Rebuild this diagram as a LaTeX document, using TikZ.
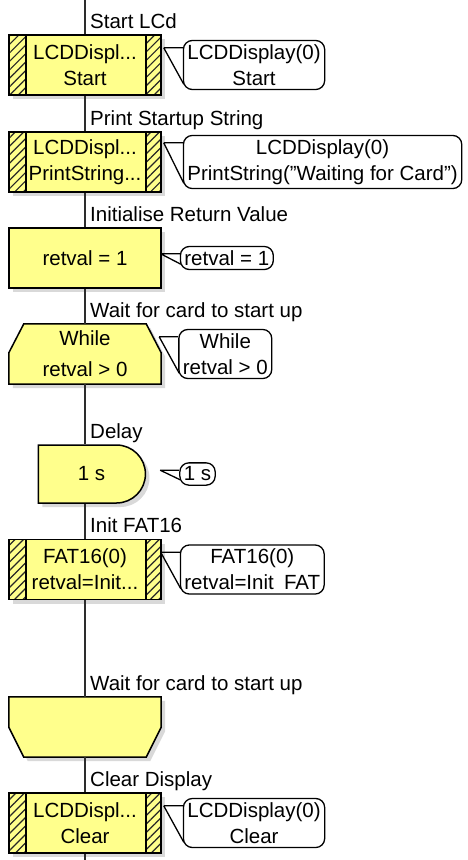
\documentclass[tikz,border=0pt]{standalone}
\usepackage{fontspec}
\setmainfont{Liberation Sans}
\usepackage{tikz}
\usetikzlibrary{positioning,shapes.misc,patterns.meta,shadows,backgrounds}

\definecolor{iconyellow}{RGB}{255,255,140}
\definecolor{flowgrey}{RGB}{45,45,45}

\tikzset{
  chart/.style={font=\fontsize{20.5}{26}\selectfont},
  shade off/.style={general shadow={fill=black!15, shadow xshift=4pt, shadow yshift=-4pt}},
  loopbox/.style={minimum width=152pt, minimum height=60pt, align=center, inner sep=0pt},
  blockbox/.style={loopbox, draw=black, line width=1.5pt, fill=iconyellow, shade off},
  macrobox/.style={blockbox, path picture={
      \fill[pattern={Lines[angle=45,distance=6pt,line width=1.2pt]}, pattern color=black!85]
        (path picture bounding box.south west) rectangle ([xshift=17pt]path picture bounding box.north west);
      \fill[pattern={Lines[angle=45,distance=6pt,line width=1.2pt]}, pattern color=black!85]
        (path picture bounding box.south east) rectangle ([xshift=-15pt]path picture bounding box.north east);
      \draw[line width=1.5pt] ([xshift=17pt]path picture bounding box.south west) -- ([xshift=17pt]path picture bounding box.north west);
      \draw[line width=1.5pt] ([xshift=-15pt]path picture bounding box.south east) -- ([xshift=-15pt]path picture bounding box.north east);
  }},
  loopshape/.style={draw=black, line width=1.5pt, fill=iconyellow, shade off},
  delaybox/.style={rounded rectangle, rounded rectangle west arc=none, draw=black, line width=1.5pt,
    fill=iconyellow, minimum width=107pt, minimum height=58pt, inner sep=0pt, shade off},
  note/.style={draw=black, line width=1.3pt, rounded corners=9pt, fill=white, align=center,
    inner xsep=4pt, inner ysep=4pt},
  pointer/.style={line width=1.3pt},
  flowline/.style={draw=flowgrey, line width=2pt},
  steplabel/.style={anchor=south west, text depth=0pt, inner sep=0pt},
}

\begin{document}
\begin{tikzpicture}[x=1pt, y=-1pt, chart]
\useasboundingbox (0,0) rectangle (468,860);

\coordinate (top) at (85,0);
\coordinate (bottom) at (85,860);

% Flow icons
\node[macrobox] (lcdstart) at (85,65) {LCDDispl...\\Start};
\node[macrobox] (lcdprint) at (85,162) {LCDDispl...\\PrintString...};
\node[blockbox] (setret) at (85,258) {retval = 1};
\node[loopbox] (whileloop) at (85,354) {While\\[5pt]retval > 0};
\node[delaybox] (delay) at (91.5,474) {1 s};
\node[macrobox] (initfat) at (85,569.5) {FAT16(0)\\retval=Init...};
\node[loopbox] (loopend) at (85,727) {};
\node[macrobox] (lcdclear) at (85,823) {LCDDispl...\\Clear};

% Loop start and end shapes
\begin{scope}[on background layer]
\filldraw[loopshape] ([xshift=15pt]whileloop.north west) -- ([xshift=-15pt]whileloop.north east)
  -- ([yshift=-29pt]whileloop.north east) -- (whileloop.south east)
  -- (whileloop.south west) -- ([yshift=-29pt]whileloop.north west) -- cycle;
\filldraw[loopshape] (loopend.north west) -- (loopend.north east)
  -- ([yshift=30pt]loopend.south east) -- ([xshift=-15pt]loopend.south east)
  -- ([xshift=15pt]loopend.south west) -- ([yshift=30pt]loopend.south west) -- cycle;
\end{scope}

% Main flow line
\coordinate (dtop) at (whileloop.south |- delay.north);
\coordinate (dbot) at (whileloop.south |- delay.south);
\foreach \a/\b in {top/lcdstart, lcdstart/lcdprint, lcdprint/setret, setret/whileloop,
    whileloop/dtop, dbot/initfat, initfat/loopend, loopend/lcdclear, lcdclear/bottom} {
  \draw[flowline] (\a) -- (\b);
}

% Icon titles
\foreach \n/\t in {lcdstart.north/Start LCd, lcdprint.north/Print Startup String,
    setret.north/Initialise Return Value, whileloop.north/Wait for card to start up,
    dtop/Delay, initfat.north/Init FAT16, loopend.north/Wait for card to start up,
    lcdclear.north/Clear Display} {
  \node[steplabel, above right=6pt and 5pt of \n] {\t};
}

% Comments
\node[note, right=21pt of lcdstart] (cstart) {LCDDisplay(0)\\Start};
\node[note, right=21pt of lcdprint] (cprint) {LCDDisplay(0)\\PrintString("Waiting for Card")};
\node[note, right=18pt of setret] (cret) {retval = 1};
\node[note, right=17pt of whileloop] (cwhile) {While\\retval > 0};
\node[note, right=33pt of delay] (cdelay) {1 s};
\node[note, right=18pt of initfat] (cfat) {FAT16(0)\\retval=Init\enspace FAT};
\node[note, right=21pt of lcdclear] (cclear) {LCDDisplay(0)\\Clear};

\foreach \c in {cstart, cprint, cret, cwhile, cdelay, cfat, cclear} {
  \draw[pointer] ([xshift=-19pt,yshift=-8pt]\c.north west) -- ([yshift=-8pt]\c.north west)
    ([xshift=-19pt,yshift=-8pt]\c.north west) -- ([xshift=1pt,yshift=6pt]\c.south west);
}

\end{tikzpicture}
\end{document}
